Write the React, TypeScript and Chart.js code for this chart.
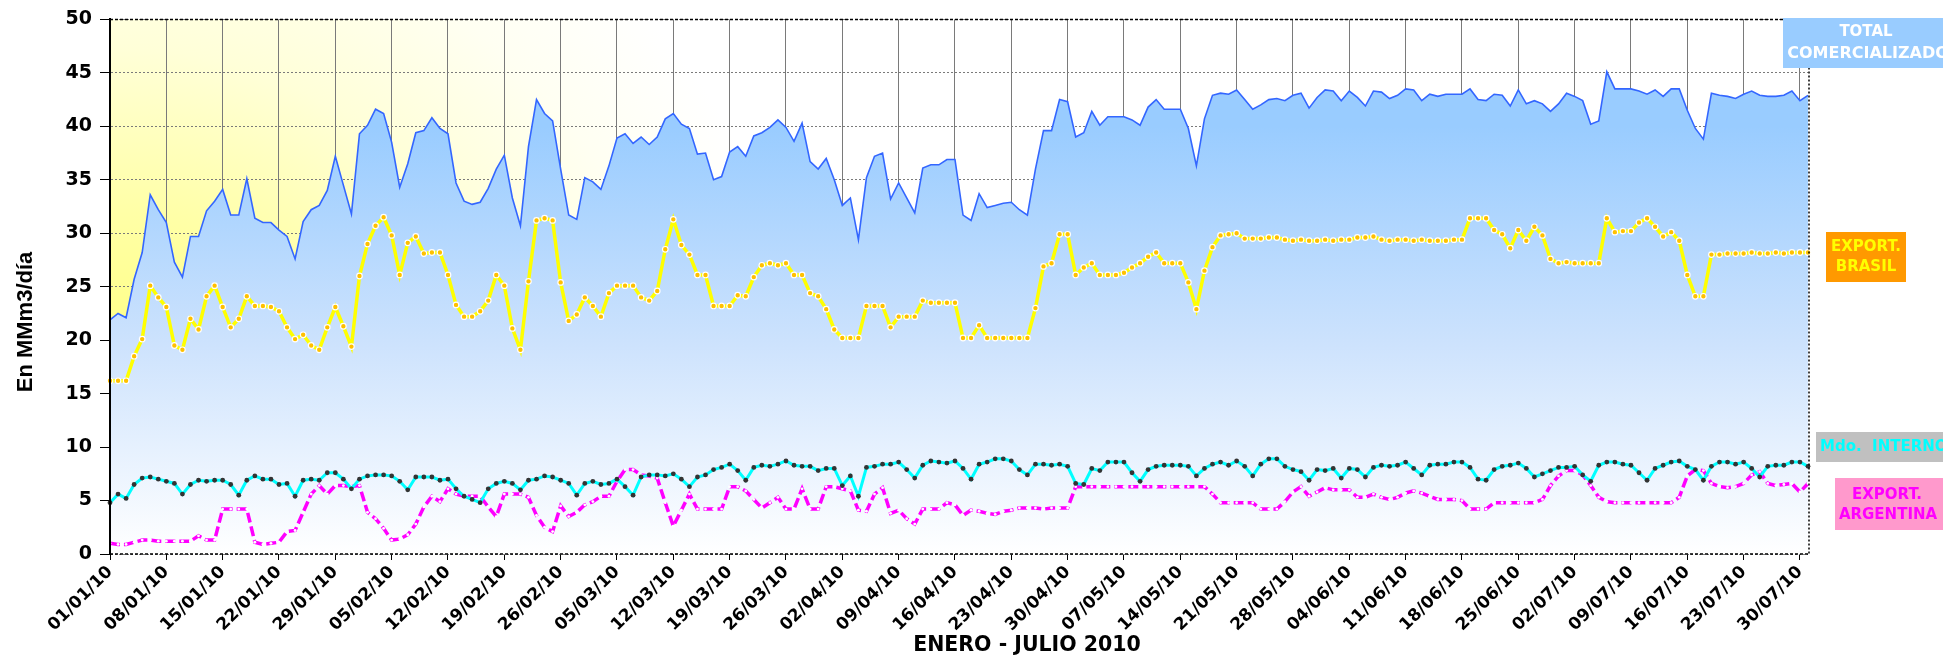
import React, { useEffect, useRef } from 'react';
import { Chart, registerables } from 'chart.js';

Chart.register(...registerables);

const dayCount = 212;
const dateLabels: string[] = [];
for (let i = 0; i < dayCount; i++) {
  const d = new Date(2010, 0, 1 + i);
  const dd = String(d.getDate()).padStart(2, '0');
  const mm = String(d.getMonth() + 1).padStart(2, '0');
  dateLabels.push(`${dd}/${mm}/10`);
}

const totalComercializado = [
  21.9, 22.5, 22.1, 25.7, 28.2, 33.6, 32.2,
  31.0, 27.3, 25.9, 29.7, 29.7, 32.1, 33.0,
  34.1, 31.7, 31.7, 35.1, 31.4, 31.0, 31.0,
  30.3, 29.7, 27.6, 31.1, 32.2, 32.6, 34.0,
  37.2, 34.5, 31.8, 39.3, 40.1, 41.6, 41.2,
  38.5, 34.3, 36.5, 39.4, 39.6, 40.8, 39.8,
  39.3, 34.7, 33.0, 32.7, 32.9, 34.2, 36.0,
  37.3, 33.3, 30.7, 38.1, 42.5, 41.2, 40.5,
  36.0, 31.7, 31.3, 35.2, 34.8, 34.1, 36.3,
  38.9, 39.3, 38.4, 39.0, 38.3, 39.0, 40.7,
  41.2, 40.2, 39.8, 37.4, 37.5, 35.0, 35.3,
  37.6, 38.1, 37.2, 39.1, 39.4, 39.9, 40.6,
  39.9, 38.6, 40.3, 36.7, 36.0, 37.0, 35.0,
  32.6, 33.3, 29.4, 35.2, 37.2, 37.5, 33.2,
  34.7, 33.3, 31.9, 36.1, 36.4, 36.4, 36.9,
  36.9, 31.7, 31.2, 33.7, 32.4, 32.6, 32.8,
  32.9, 32.2, 31.7, 36.0, 39.6, 39.6, 42.5,
  42.3, 39.0, 39.4, 41.4, 40.1, 40.9, 40.9,
  40.9, 40.6, 40.1, 41.8, 42.5, 41.6, 41.6,
  41.6, 39.8, 36.3, 40.7, 42.9, 43.1, 43.0,
  43.4, 42.5, 41.6, 42.0, 42.5, 42.6, 42.4,
  42.9, 43.1, 41.7, 42.7, 43.4, 43.3, 42.4,
  43.3, 42.7, 41.9, 43.3, 43.2, 42.6, 42.9,
  43.5, 43.4, 42.4, 43.0, 42.8, 43.0, 43.0,
  43.0, 43.5, 42.5, 42.4, 43.0, 42.9, 41.9,
  43.4, 42.1, 42.4, 42.1, 41.4, 42.1, 43.1,
  42.8, 42.4, 40.2, 40.5, 45.1, 43.5, 43.5,
  43.5, 43.3, 43.0, 43.4, 42.8, 43.5, 43.5,
  41.5, 39.8, 38.8, 43.1, 42.9, 42.8, 42.6,
  43.0, 43.3, 42.9, 42.8, 42.8, 42.9, 43.3,
  42.4, 42.9,
];

const exportBrasil = [
  16.2, 16.2, 16.2, 18.5, 20.1, 25.1, 24.0,
  23.1, 19.5, 19.1, 22.0, 21.0, 24.1, 25.1,
  23.1, 21.2, 22.0, 24.1, 23.2, 23.2, 23.1,
  22.7, 21.2, 20.1, 20.5, 19.5, 19.1, 21.2,
  23.1, 21.3, 19.4, 26.0, 29.0, 30.7, 31.5,
  29.8, 26.1, 29.1, 29.7, 28.1, 28.2, 28.2,
  26.1, 23.3, 22.2, 22.2, 22.7, 23.7, 26.1,
  25.1, 21.1, 19.1, 25.5, 31.2, 31.4, 31.2,
  25.4, 21.8, 22.4, 24.0, 23.2, 22.2, 24.4,
  25.1, 25.1, 25.1, 24.0, 23.7, 24.6, 28.5,
  31.3, 28.9, 28.0, 26.1, 26.1, 23.2, 23.2,
  23.2, 24.2, 24.1, 25.9, 27.0, 27.2, 27.0,
  27.2, 26.1, 26.1, 24.4, 24.1, 22.9, 21.0,
  20.2, 20.2, 20.2, 23.2, 23.2, 23.2, 21.2,
  22.2, 22.2, 22.2, 23.7, 23.5, 23.5, 23.5,
  23.5, 20.2, 20.2, 21.4, 20.2, 20.2, 20.2,
  20.2, 20.2, 20.2, 23.0, 26.9, 27.2, 29.9,
  29.9, 26.1, 26.8, 27.2, 26.1, 26.1, 26.1,
  26.3, 26.8, 27.2, 27.8, 28.2, 27.2, 27.2,
  27.2, 25.4, 22.9, 26.5, 28.7, 29.8, 29.9,
  30.0, 29.5, 29.5, 29.5, 29.6, 29.6, 29.4,
  29.3, 29.4, 29.3, 29.3, 29.4, 29.3, 29.4,
  29.4, 29.6, 29.6, 29.7, 29.4, 29.3, 29.4,
  29.4, 29.3, 29.4, 29.3, 29.3, 29.3, 29.4,
  29.4, 31.4, 31.4, 31.4, 30.3, 29.9, 28.6,
  30.3, 29.3, 30.6, 29.8, 27.6, 27.2, 27.3,
  27.2, 27.2, 27.2, 27.2, 31.4, 30.1, 30.2,
  30.2, 31.0, 31.4, 30.6, 29.7, 30.1, 29.3,
  26.1, 24.1, 24.1, 28.0, 28.0, 28.1, 28.1,
  28.1, 28.2, 28.1, 28.1, 28.2, 28.1, 28.2,
  28.2, 28.2,
];

const mercadoInterno = [
  4.8, 5.6, 5.2, 6.5, 7.1, 7.2, 7.0,
  6.8, 6.6, 5.6, 6.5, 6.9, 6.8, 6.9,
  6.9, 6.5, 5.5, 6.9, 7.3, 7.0, 7.0,
  6.5, 6.6, 5.4, 6.9, 7.0, 6.9, 7.6,
  7.6, 7.0, 6.1, 7.0, 7.3, 7.4, 7.4,
  7.3, 6.8, 6.0, 7.2, 7.2, 7.2, 6.9,
  7.0, 6.1, 5.4, 5.1, 4.8, 6.1, 6.6,
  6.8, 6.6, 6.0, 6.9, 7.0, 7.3, 7.2,
  6.9, 6.6, 5.5, 6.6, 6.8, 6.5, 6.6,
  7.0, 6.3, 5.5, 7.2, 7.4, 7.4, 7.3,
  7.5, 7.0, 6.3, 7.2, 7.4, 7.9, 8.1,
  8.4, 7.8, 6.9, 8.1, 8.3, 8.2, 8.4,
  8.7, 8.3, 8.2, 8.2, 7.8, 8.0, 8.0,
  6.4, 7.3, 5.4, 8.1, 8.2, 8.4, 8.4,
  8.6, 7.9, 7.1, 8.3, 8.7, 8.6, 8.5,
  8.7, 8.0, 7.0, 8.4, 8.6, 8.9, 8.9,
  8.7, 7.9, 7.4, 8.4, 8.4, 8.3, 8.4,
  8.2, 6.6, 6.5, 8.0, 7.8, 8.6, 8.6,
  8.6, 7.6, 6.8, 7.9, 8.2, 8.3, 8.3,
  8.3, 8.2, 7.3, 8.0, 8.4, 8.6, 8.3,
  8.7, 8.2, 7.3, 8.4, 8.9, 8.9, 8.2,
  7.9, 7.7, 6.9, 7.9, 7.8, 8.0, 7.1,
  8.0, 7.9, 7.2, 8.1, 8.3, 8.2, 8.3,
  8.6, 8.0, 7.4, 8.3, 8.4, 8.4, 8.6,
  8.6, 8.1, 7.0, 6.9, 7.9, 8.2, 8.3,
  8.5, 8.0, 7.2, 7.5, 7.8, 8.1, 8.1,
  8.2, 7.4, 6.8, 8.3, 8.6, 8.6, 8.4,
  8.3, 7.6, 6.9, 8.0, 8.3, 8.6, 8.7,
  8.2, 7.9, 6.9, 8.2, 8.6, 8.6, 8.4,
  8.6, 8.0, 7.2, 8.2, 8.3, 8.3, 8.6,
  8.6, 8.2,
];

const exportArgentina = [
  1.0, 0.9, 0.9, 1.1, 1.3, 1.3, 1.2,
  1.2, 1.2, 1.2, 1.2, 1.7, 1.3, 1.3,
  4.2, 4.2, 4.2, 4.2, 1.1, 0.9, 1.0,
  1.1, 2.1, 2.2, 3.9, 5.6, 6.4, 5.6,
  6.4, 6.4, 6.3, 6.4, 3.9, 3.3, 2.4,
  1.3, 1.4, 1.8, 2.8, 4.4, 5.4, 4.9,
  6.1, 5.6, 5.4, 5.4, 5.4, 4.4, 3.5,
  5.6, 5.6, 5.6, 5.3, 3.6, 2.5, 2.1,
  4.5, 3.5, 3.9, 4.6, 4.9, 5.4, 5.4,
  6.8, 7.9, 7.9, 7.4, 7.3, 7.1, 4.8,
  2.6, 4.1, 5.6, 4.2, 4.2, 4.2, 4.2,
  6.3, 6.3, 5.9, 5.1, 4.3, 4.8, 5.3,
  4.2, 4.2, 6.1, 4.2, 4.2, 6.3, 6.3,
  6.1, 5.9, 4.1, 4.0, 5.6, 6.2, 3.8,
  4.1, 3.3, 2.8, 4.2, 4.2, 4.2, 4.8,
  4.6, 3.6, 4.1, 4.0, 3.8, 3.7, 4.0,
  4.1, 4.3, 4.3, 4.3, 4.2, 4.3, 4.3,
  4.3, 6.3, 6.3, 6.3, 6.3, 6.3, 6.3,
  6.3, 6.3, 6.3, 6.3, 6.3, 6.3, 6.3,
  6.3, 6.3, 6.3, 6.3, 5.6, 4.8, 4.8,
  4.8, 4.8, 4.8, 4.2, 4.2, 4.2, 4.9,
  5.8, 6.3, 5.4, 5.8, 6.2, 6.0, 6.0,
  6.0, 5.3, 5.3, 5.6, 5.3, 5.1, 5.3,
  5.7, 5.9, 5.7, 5.4, 5.1, 5.1, 5.1,
  5.0, 4.2, 4.2, 4.2, 4.8, 4.8, 4.8,
  4.8, 4.8, 4.8, 5.1, 6.4, 7.3, 7.8,
  7.8, 7.4, 6.4, 5.3, 4.9, 4.8, 4.8,
  4.8, 4.8, 4.8, 4.8, 4.8, 4.8, 5.3,
  7.3, 7.9, 7.8, 6.6, 6.3, 6.2, 6.3,
  6.6, 7.4, 7.7, 6.6, 6.4, 6.5, 6.6,
  5.8, 6.6,
];

const yAxisTitle = 'En MMm3/día';
const xAxisTitle = 'ENERO - JULIO 2010';
const labelStep = 7;

const FONT = '"DejaVu Sans", "Liberation Sans", Arial, sans-serif';
const TITLE_FONT = '"Liberation Sans", Arial, sans-serif';

const decorPlugin = {
  id: 'decor',
  beforeDraw(chart: any) {
    const { ctx, chartArea: a } = chart;
    if (!a) return;
    ctx.save();
    ctx.fillStyle = '#FFFFFF';
    ctx.fillRect(a.left, a.top, a.right - a.left, a.bottom - a.top);
    const g = ctx.createRadialGradient(a.left, a.bottom - 60, 0, a.left, a.bottom - 60, 720);
    g.addColorStop(0, '#FFFF60');
    g.addColorStop(0.4, '#FFFFA8');
    g.addColorStop(0.62, '#FFFFD8');
    g.addColorStop(0.82, '#FFFFF2');
    g.addColorStop(1, '#FFFFFF');
    ctx.fillStyle = g;
    ctx.fillRect(a.left, a.top, a.right - a.left, a.bottom - a.top);
    ctx.restore();
  },
  afterDraw(chart: any) {
    const { ctx, chartArea: a } = chart;
    if (!a) return;
    ctx.save();
    // plot frame
    ctx.strokeStyle = '#000';
    ctx.lineWidth = 1.5;
    ctx.setLineDash([3, 2]);
    ctx.beginPath();
    ctx.moveTo(a.left, a.top);
    ctx.lineTo(a.right, a.top);
    ctx.moveTo(a.left, a.bottom);
    ctx.lineTo(a.right, a.bottom);
    ctx.stroke();
    ctx.setLineDash([2, 2]);
    ctx.beginPath();
    ctx.moveTo(a.right + 1, a.top);
    ctx.lineTo(a.right + 1, a.bottom);
    ctx.stroke();
    ctx.setLineDash([]);
    ctx.lineWidth = 2;
    ctx.beginPath();
    ctx.moveTo(a.left, a.top);
    ctx.lineTo(a.left, a.bottom);
    ctx.stroke();

    // axis titles
    ctx.fillStyle = '#000';
    ctx.textAlign = 'center';
    ctx.textBaseline = 'middle';
    ctx.font = `bold 22px ${TITLE_FONT}`;
    ctx.save();
    ctx.translate(26, 322);
    ctx.rotate(-Math.PI / 2);
    ctx.fillText(yAxisTitle, 0, 0);
    ctx.restore();
    ctx.font = `bold 20.5px ${FONT}`;
    ctx.fillText(xAxisTitle, 1027, 646);

    // series labels
    const box = (x: number, y: number, w: number, h: number, bg: string) => {
      ctx.fillStyle = bg;
      ctx.fillRect(x, y, w, h);
    };
    ctx.font = `bold 15px ${FONT}`;
    box(1783, 18, 170, 50, '#99CCFF');
    ctx.fillStyle = '#FFFFFF';
    ctx.fillText('TOTAL', 1866, 32);
    ctx.font = `bold 16px ${FONT}`;
    ctx.fillText('COMERCIALIZADO', 1868, 54);
    ctx.font = `bold 15px ${FONT}`;

    box(1826, 232, 80, 50, '#FF9900');
    ctx.fillStyle = '#FFFF00';
    ctx.fillText('EXPORT.', 1866, 247);
    ctx.fillText('BRASIL', 1866, 267);

    box(1816, 432, 140, 30, '#C0C0C0');
    ctx.fillStyle = '#00FFFF';
    ctx.textAlign = 'left';
    ctx.fillText('Mdo.  INTERNO', 1820, 447);

    box(1835, 478, 108, 52, '#FF99CC');
    ctx.fillStyle = '#FF00FF';
    ctx.textAlign = 'center';
    ctx.fillText('EXPORT.', 1887, 495);
    ctx.fillText('ARGENTINA', 1888, 515);
    ctx.restore();
  },
};

export default function App() {
  const canvasRef = useRef<HTMLCanvasElement | null>(null);

  useEffect(() => {
    const canvas = canvasRef.current;
    if (!canvas) return;
    const chart = new Chart(canvas, {
      type: 'line',
      data: {
        labels: dateLabels,
        datasets: [
          {
            label: 'TOTAL COMERCIALIZADO',
            data: totalComercializado,
            borderColor: '#3366FF',
            borderWidth: 1.6,
            pointRadius: 0,
            tension: 0,
            fill: 'origin',
            order: 4,
            backgroundColor: (c: any) => {
              const { ctx, chartArea } = c.chart;
              if (!chartArea) return '#99CCFF';
              const g = ctx.createLinearGradient(0, chartArea.top, 0, chartArea.bottom);
              g.addColorStop(0, '#99CCFF');
              g.addColorStop(0.2, '#99CCFF');
              g.addColorStop(0.6, '#CCE2FD');
              g.addColorStop(1, '#FFFFFF');
              return g;
            },
          },
          {
            label: 'EXPORT. BRASIL',
            data: exportBrasil,
            borderColor: '#FFFF00',
            borderWidth: 3.5,
            pointRadius: 2.8,
            pointBackgroundColor: '#FFC000',
            pointBorderColor: '#FFFFFF',
            pointBorderWidth: 1.2,
            tension: 0,
            fill: false,
            order: 3,
          },
          {
            label: 'EXPORT. ARGENTINA',
            data: exportArgentina,
            borderColor: '#FF00FF',
            borderWidth: 3.5,
            borderDash: [10, 4],
            pointRadius: 1.4,
            pointBackgroundColor: '#FFFFFF',
            pointBorderWidth: 0,
            tension: 0,
            fill: false,
            order: 2,
          },
          {
            label: 'Mdo. INTERNO',
            data: mercadoInterno,
            borderColor: '#00FFFF',
            borderWidth: 3,
            pointRadius: 2.4,
            pointBackgroundColor: '#333333',
            pointBorderWidth: 0,
            tension: 0,
            fill: false,
            order: 1,
          },
        ],
      },
      options: {
        responsive: false,
        animation: false,
        devicePixelRatio: 1,
        layout: { padding: { top: 17, right: 135, bottom: 0, left: 0 } },
        plugins: {
          legend: { display: false },
          tooltip: { enabled: false },
          title: { display: false },
        },
        scales: {
          x: {
            type: 'category',
            offset: false,
            afterFit: (s: any) => { s.height = 106; },
            grid: {
              display: true,
              drawOnChartArea: true,
              lineWidth: 1,
              color: (c: any) => (c.index % labelStep === 0 && c.index > 0 ? '#7A7A7A' : 'rgba(0,0,0,0)'),
              tickLength: 6,
              tickColor: (c: any) => (c.index % labelStep === 0 ? '#000000' : 'rgba(0,0,0,0)'),
            },
            border: { display: false },
            ticks: {
              autoSkip: false,
              minRotation: 45,
              maxRotation: 45,
              padding: 2,
              color: '#000',
              font: { family: FONT, weight: 'bold', size: 17 },
              callback: (_v: any, i: number) => (i % labelStep === 0 ? dateLabels[i] : ''),
            },
          },
          y: {
            min: 0,
            max: 50,
            afterFit: (s: any) => { s.width = 110; },
            ticks: {
              stepSize: 5,
              padding: 8,
              color: '#000',
              font: { family: FONT, weight: 'bold', size: 19 },
            },
            grid: {
              color: '#7A7A7A',
              lineWidth: 1,
              tickLength: 10,
              tickColor: '#000',
            },
            border: { display: true, color: '#000', width: 2, dash: [2, 2] },
          },
        },
      },
      plugins: [decorPlugin],
    } as any);
    return () => chart.destroy();
  }, []);

  return (
    <div style={{ position: 'fixed', left: 0, top: 0, width: 1943, height: 660, overflow: 'hidden', background: '#fff' }}>
      <canvas ref={canvasRef} width={1943} height={660} style={{ display: 'block' }} />
    </div>
  );
}
